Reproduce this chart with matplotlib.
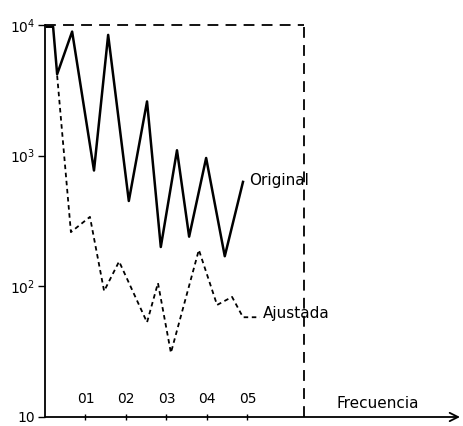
import numpy as np
import matplotlib.pyplot as plt

# Frequency positions and amplitudes
freq_orig = [0.005, 0.02, 0.03, 0.067, 0.121, 0.156, 0.207, 0.252, 0.286, 0.326, 0.356, 0.398, 0.444, 0.489]
amp_orig = [9700, 9700, 4200, 8900, 770, 8400, 450, 2600, 200, 1100, 240, 960, 170, 630]

freq_adj = [0.03, 0.064, 0.111, 0.146, 0.183, 0.252, 0.279, 0.311, 0.380, 0.425, 0.462, 0.489, 0.531]
amp_adj = [4100, 260, 340, 92, 155, 53, 106, 31, 190, 72, 83, 58, 58]

xtick_pos = [0.1, 0.2, 0.3, 0.4, 0.5]
xtick_labels = ['01', '02', '03', '04', '05']
ytick_pos = [10, 100, 1000, 10000]
ytick_labels = ['10', r'10$^2$', r'10$^3$', r'10$^4$']

x_limit = 0.64   # dashed frame on the right

fig = plt.figure(figsize=(4.63, 4.26), dpi=100)
ax = fig.add_axes([45/463, 9/426, 415/463, 392/426])
ax.set_yscale('log')
ax.set_xlim(0, 1.025)
ax.set_ylim(10, 10000)

# curves
ax.plot(freq_orig, amp_orig, color='black', lw=1.8, solid_joinstyle='round', clip_on=False)
ax.plot(freq_adj, amp_adj, color='black', lw=1.3, linestyle=(0, (2.5, 2.0)), clip_on=False)

ax.text(0.503, 640, 'Original', fontsize=11, va='center', ha='left')
ax.text(0.538, 62, 'Ajustada', fontsize=11, va='center', ha='left')

# dashed frame
ax.plot([0, x_limit], [10000, 10000], color='black', lw=1.3, linestyle=(0, (6, 4)), clip_on=False)
ax.plot([x_limit, x_limit], [10, 10000], color='black', lw=1.3, linestyle=(0, (6, 4)), clip_on=False)

# axes
for s in ['top', 'right', 'bottom']:
    ax.spines[s].set_visible(False)
ax.spines['left'].set_linewidth(1.3)
ax.annotate('', xy=(1.025, 10), xytext=(0, 10),
            arrowprops=dict(arrowstyle='->', lw=1.3, color='black', mutation_scale=15,
                            shrinkA=0, shrinkB=0),
            annotation_clip=False)

ax.set_xticks(xtick_pos)
ax.set_xticklabels([])
ax.tick_params(axis='x', direction='inout', length=5, width=1)
for xp, lab in zip(xtick_pos, xtick_labels):
    ax.text(xp, 13.8, lab, fontsize=10, ha='center', va='center')
ax.text(0.822, 12.6, 'Frecuencia', fontsize=11, ha='center', va='center')

ax.set_yticks(ytick_pos)
ax.set_yticklabels(ytick_labels, fontsize=10)
ax.minorticks_off()
ax.tick_params(axis='y', direction='out', length=5, width=1, pad=2)

fig.savefig('out.png', dpi=100)
